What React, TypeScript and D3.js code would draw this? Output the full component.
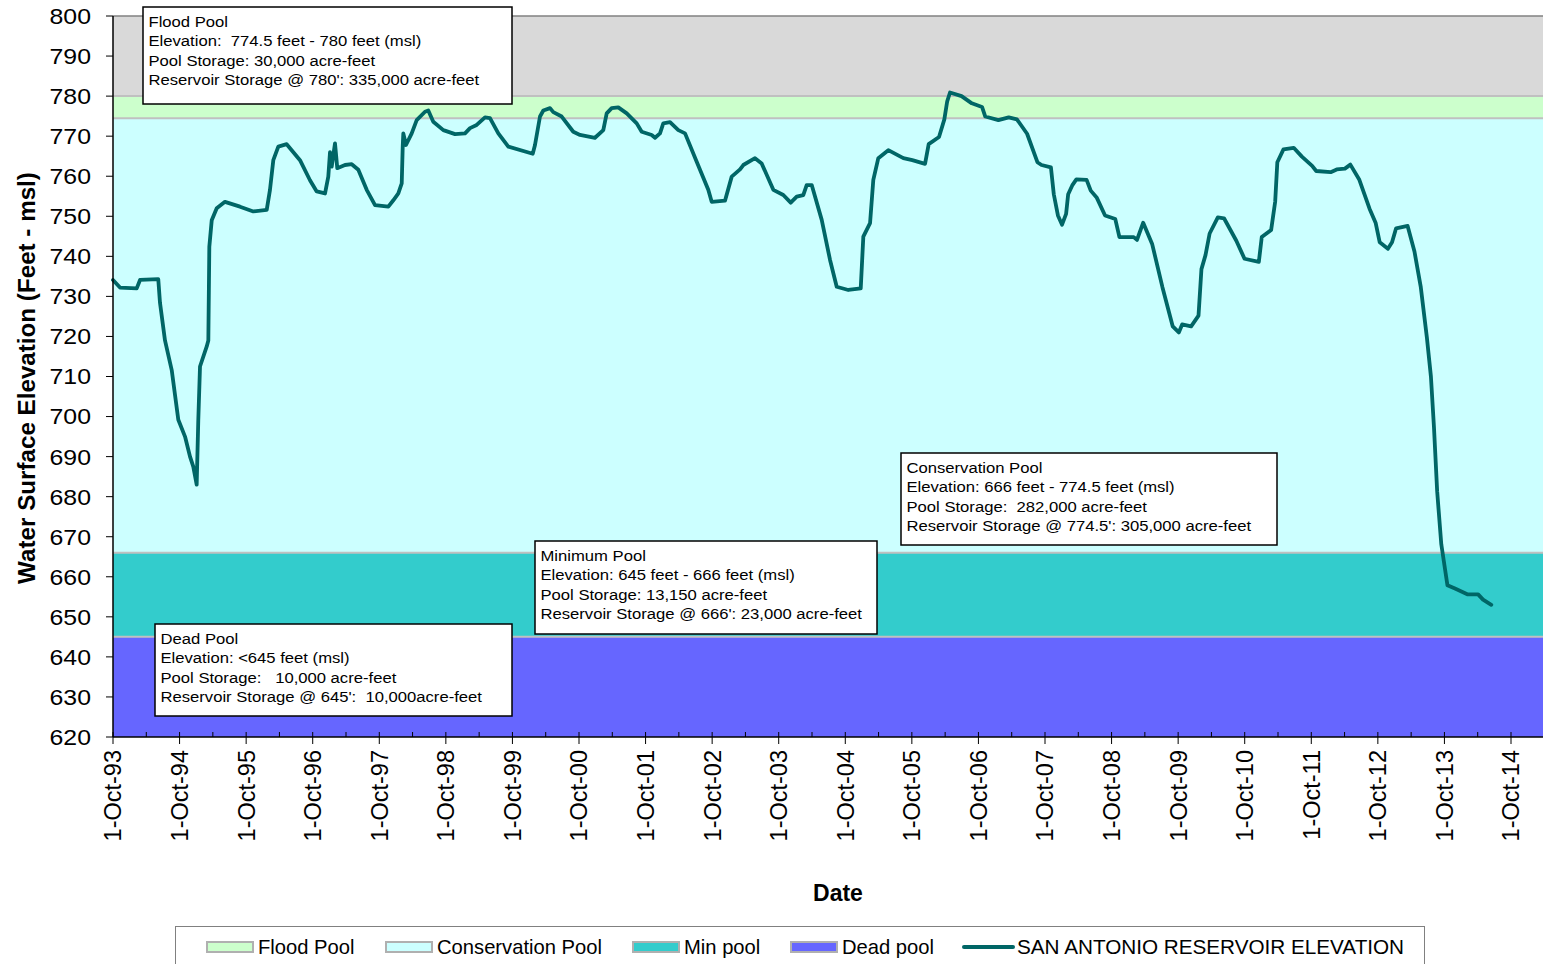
import React from "react";
import * as d3 from "d3";

// decimal year (1 Oct = .75) and lake elevation in feet msl
const obsDates = [
  1993.75, 1993.855, 1994.106, 1994.156, 1994.43, 1994.456, 1994.531, 1994.632, 1994.731, 1994.832,
  1994.907, 1994.956, 1995.007, 1995.031, 1995.057, 1995.158, 1995.182, 1995.197, 1995.233, 1995.308,
  1995.432, 1995.658, 1995.858, 1996.059, 1996.108, 1996.158, 1996.233, 1996.359, 1996.559, 1996.709,
  1996.81, 1996.935, 1996.984, 1997.01, 1997.035, 1997.085, 1997.119, 1997.235, 1997.336, 1997.435,
  1997.561, 1997.686, 1997.886, 1997.961, 1998.036, 1998.087, 1998.102, 1998.111, 1998.151, 1998.237,
  1998.312, 1998.437, 1998.486, 1998.561, 1998.712, 1998.888, 1999.038, 1999.113, 1999.213, 1999.338,
  1999.413, 1999.538, 1999.688, 2000.055, 2000.089, 2000.164, 2000.214, 2000.315, 2000.364, 2000.49,
  2000.664, 2000.765, 2000.99, 2001.115, 2001.166, 2001.241, 2001.34, 2001.467, 2001.617, 2001.692,
  2001.842, 2001.892, 2001.967, 2002.016, 2002.117, 2002.242, 2002.343, 2002.518, 2002.692, 2002.743,
  2002.943, 2003.044, 2003.169, 2003.218, 2003.394, 2003.494, 2003.669, 2003.819, 2003.93, 2004.02,
  2004.119, 2004.17, 2004.246, 2004.396, 2004.521, 2004.621, 2004.795, 2004.982, 2005.021, 2005.122,
  2005.171, 2005.246, 2005.396, 2005.622, 2005.757, 2005.948, 2006.003, 2006.158, 2006.238, 2006.281,
  2006.323, 2006.496, 2006.651, 2006.804, 2006.853, 2007.05, 2007.205, 2007.328, 2007.481, 2007.636,
  2007.698, 2007.839, 2007.882, 2007.944, 2008.006, 2008.067, 2008.098, 2008.159, 2008.221, 2008.375,
  2008.437, 2008.529, 2008.652, 2008.806, 2008.868, 2009.083, 2009.132, 2009.225, 2009.361, 2009.514,
  2009.669, 2009.76, 2009.81, 2009.945, 2010.056, 2010.1, 2010.161, 2010.223, 2010.346, 2010.439,
  2010.624, 2010.747, 2010.962, 2011.006, 2011.147, 2011.208, 2011.24, 2011.332, 2011.486, 2011.609,
  2011.763, 2011.824, 2012.041, 2012.132, 2012.255, 2012.337, 2012.472, 2012.625, 2012.716, 2012.778,
  2012.901, 2012.963, 2013.024, 2013.197, 2013.3, 2013.395, 2013.486, 2013.547, 2013.592, 2013.641,
  2013.703, 2013.795, 2013.917, 2014.101, 2014.256, 2014.33, 2014.454,
];

const elevations = [
  734.1, 732.2, 732.0, 734.1, 734.3, 728.4, 719, 711.6, 699.2, 695,
  690, 687.5, 683, 699, 712.5, 717.5, 719, 742.4, 749, 752,
  753.6, 752.4, 751.2, 751.6, 756.6, 764, 767.4, 768, 764, 759,
  756.2, 755.7, 759.9, 766, 762.4, 768.2, 762, 762.8, 763, 761.6,
  756.6, 752.8, 752.4, 754, 755.7, 758.2, 767.4, 770.7, 767.8, 770.7,
  774, 776.1, 776.4, 773.6, 771.5, 770.5, 770.7, 772, 772.8, 774.7,
  774.5, 770.7, 767.4, 765.6, 767.8, 774.9, 776.4, 777, 776, 774.9,
  771.1, 770.3, 769.6, 771.5, 775.7, 777, 777.2, 775.7, 773.2, 771.1,
  770.3, 769.6, 770.7, 773.2, 773.5, 771.5, 770.7, 763.6, 756.6, 753.6,
  753.9, 759.9, 761.7, 762.8, 764.5, 763.2, 756.6, 755.3, 753.4, 754.9,
  755.3, 757.8, 757.8, 749.1, 739.1, 732.4, 731.6, 732, 744.9, 748.3,
  759.1, 764.5, 766.5, 764.5, 764, 763.1, 768, 769.8, 774.2, 778.7,
  780.9, 780, 778.2, 777.3, 774.9, 774, 774.7, 774.2, 770.6, 763.5,
  762.8, 762.2, 755.5, 750.2, 747.9, 750.6, 755.5, 757.7, 759.2, 759.1,
  756.4, 754.6, 750.2, 749.3, 744.8, 744.8, 744.1, 748.4, 743, 732.3,
  722.5, 721, 723, 722.5, 725.2, 736.8, 740.3, 745.7, 749.7, 749.5,
  743.9, 739.4, 738.6, 744.8, 746.6, 753.7, 763.5, 766.7, 767.1, 764.9,
  762.6, 761.3, 761, 761.7, 761.9, 762.9, 759.1, 751.9, 748.4, 743.5,
  741.9, 743.5, 747, 747.6, 741.2, 732.3, 719.8, 710, 697.6, 681.3,
  668.1, 657.9, 657, 655.6, 655.6, 654.3, 653,
];

const tickYears = ["93", "94", "95", "96", "97", "98", "99", "00", "01", "02", "03",
  "04", "05", "06", "07", "08", "09", "10", "11", "12", "13", "14"];

const yTicks = [620, 630, 640, 650, 660, 670, 680, 690, 700, 710, 720, 730, 740, 750, 760, 770, 780, 790, 800];

const pools = [
  { name: "Above", lo: 780, hi: 800, color: "#D9D9D9" },
  { name: "Flood Pool", lo: 774.5, hi: 780, color: "#CCFFCC" },
  { name: "Conservation Pool", lo: 666, hi: 774.5, color: "#CCFFFF" },
  { name: "Min pool", lo: 645, hi: 666, color: "#33CCCC" },
  { name: "Dead pool", lo: 620, hi: 645, color: "#6666FF" },
];

const notes = [
  { x: 143, y: 7, w: 369, h: 97, lines: ["Flood Pool", "Elevation:  774.5 feet - 780 feet (msl)", "Pool Storage: 30,000 acre-feet", "Reservoir Storage @ 780': 335,000 acre-feet"] },
  { x: 901, y: 453, w: 376, h: 92, lines: ["Conservation Pool", "Elevation: 666 feet - 774.5 feet (msl)", "Pool Storage:  282,000 acre-feet", "Reservoir Storage @ 774.5': 305,000 acre-feet"] },
  { x: 535, y: 541, w: 342, h: 93, lines: ["Minimum Pool", "Elevation: 645 feet - 666 feet (msl)", "Pool Storage: 13,150 acre-feet", "Reservoir Storage @ 666': 23,000 acre-feet"] },
  { x: 155, y: 624, w: 357, h: 92, lines: ["Dead Pool", "Elevation: <645 feet (msl)", "Pool Storage:   10,000 acre-feet", "Reservoir Storage @ 645':  10,000acre-feet"] },
];

const legendItems = [
  { label: "Flood Pool", color: "#CCFFCC", x: 207 },
  { label: "Conservation Pool", color: "#CCFFFF", x: 386 },
  { label: "Min pool", color: "#33CCCC", x: 633 },
  { label: "Dead pool", color: "#6666FF", x: 791 },
];

const FONT = "'Liberation Sans', Arial, sans-serif";

export default function App() {
  const W = 1543, H = 964;
  const left = 113, right = 1543, top = 16, bottom = 737;

  const x = d3.scaleLinear().domain([1993.75, 2014.75]).range([left, 1511]);
  const y = d3.scaleLinear().domain([620, 800]).range([bottom, top]);

  const pts: [number, number][] = obsDates.map((d, i) => [d, elevations[i]]);
  const line = d3.line<[number, number]>().x(d => x(d[0])).y(d => y(d[1]));

  const majors = tickYears.map((lab, i) => ({ v: 1993.75 + i, lab }));
  const minors = d3.range(0, 22).map(i => 1994.25 + i).filter(v => x(v) < right);

  return (
    <svg width={W} height={H} style={{ position: "absolute", left: 0, top: 0, background: "#fff" }} fontFamily={FONT}>
      {/* pool bands */}
      {pools.map(p => (
        <rect key={p.name} x={left} y={y(p.hi)} width={right - left} height={y(p.lo) - y(p.hi)} fill={p.color} />
      ))}
      {[780, 774.5, 666, 645].map(v => (
        <line key={v} x1={left} x2={right} y1={y(v)} y2={y(v)} stroke="#C0C0C0" strokeWidth={2} />
      ))}
      <line x1={left} x2={right} y1={y(800)} y2={y(800)} stroke="#808080" strokeWidth={1.5} />

      {/* elevation line */}
      <path d={line(pts) || ""} fill="none" stroke="#006666" strokeWidth={3.8} strokeLinejoin="round" strokeLinecap="round" />

      {/* axes */}
      <line x1={left} x2={left} y1={top} y2={bottom} stroke="#000" strokeWidth={1.5} />
      <line x1={left} x2={right} y1={bottom} y2={bottom} stroke="#000" strokeWidth={1.5} />
      {yTicks.map(v => (
        <g key={v}>
          <line x1={left - 7} x2={left} y1={y(v)} y2={y(v)} stroke="#000" />
          <text transform={`translate(91,${y(v)}) scale(1.13,1)`} dy="0.36em" textAnchor="end" fontSize={22}>{v}</text>
        </g>
      ))}
      {majors.map(t => (
        <g key={t.lab}>
          <line x1={x(t.v)} x2={x(t.v)} y1={bottom - 5} y2={bottom + 7} stroke="#000" />
          <text transform={`translate(${x(t.v)},750) rotate(-90)`} dy="0.36em" textAnchor="end" fontSize={23.5}>
            {`1-Oct-${t.lab}`}
          </text>
        </g>
      ))}
      {minors.map(v => (
        <line key={v} x1={x(v)} x2={x(v)} y1={bottom - 5} y2={bottom} stroke="#000" />
      ))}

      <text transform="translate(26,378) rotate(-90)" dy="0.36em" textAnchor="middle" fontSize={24.2} fontWeight="bold">
        Water Surface Elevation (Feet - msl)
      </text>
      <text x={838} y={901} textAnchor="middle" fontSize={23} fontWeight="bold">Date</text>

      {/* pool notes */}
      {notes.map(n => (
        <g key={n.lines[0]}>
          <rect x={n.x} y={n.y} width={n.w} height={n.h} fill="#fff" stroke="#000" strokeWidth={1.5} />
          {n.lines.map((s, i) => (
            <text key={i} transform={`translate(${n.x + 5.5},${n.y + 20 + i * 19.3}) scale(1.11,1)`} fontSize={15} style={{ whiteSpace: "pre" }}>{s}</text>
          ))}
        </g>
      ))}

      {/* legend */}
      <rect x={175.5} y={926.5} width={1249} height={60} fill="#fff" stroke="#808080" />
      {legendItems.map(it => (
        <g key={it.label}>
          <rect x={it.x} y={942} width={46} height={10} fill={it.color} stroke="#B0B0B0" strokeWidth={2} />
          <text x={it.x + 51} y={954} fontSize={20.2}>{it.label}</text>
        </g>
      ))}
      <line x1={964} x2={1013} y1={947} y2={947} stroke="#006666" strokeWidth={4} strokeLinecap="round" />
      <text transform="translate(1017,954) scale(1.025,1)" fontSize={20.2}>SAN ANTONIO RESERVOIR ELEVATION</text>
    </svg>
  );
}
